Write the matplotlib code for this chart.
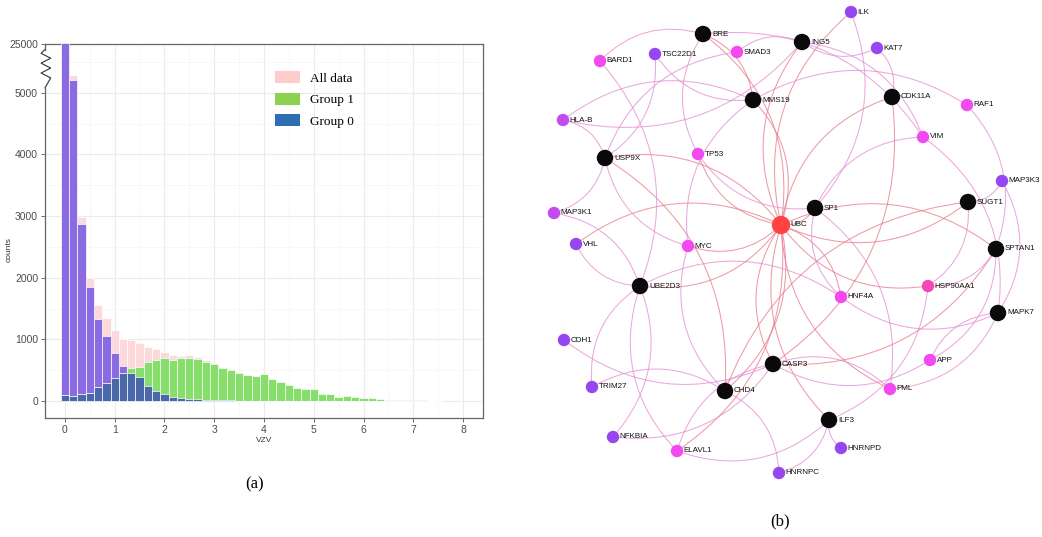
import numpy as np
import matplotlib
matplotlib.use('Agg')
import matplotlib.pyplot as plt
from matplotlib.patches import FancyArrowPatch, Patch
from matplotlib.transforms import blended_transform_factory

# Histogram of VZV scores, bin width 1/6
bin_centers = np.arange(46) / 6
all_data = [25000, 5280, 2980, 1990, 1557, 1340, 1145, 1000, 985, 935,
            880, 840, 800, 740, 730, 745, 710, 665, 615, 545,
            515, 456, 424, 413, 439, 357, 313, 265, 216, 190,
            200, 120, 120, 70, 80, 70, 55, 55, 27, 22,
            11, 11, 16, 11, 5, 5]
group1 = [97, 80, 113, 135, 225, 297, 375, 455, 530, 556,
          640, 670, 690, 665, 690, 705, 680, 640, 600, 530,
          505, 450, 420, 410, 437, 357, 313, 265, 216, 190,
          200, 120, 120, 70, 80, 70, 55, 55, 27, 22,
          11, 11, 16, 11, 5, 5]
group0 = [24900, 5200, 2870, 1855, 1330, 1055, 773, 567, 459, 384,
          248, 167, 108, 59, 45, 40, 30, 22, 15, 12,
          10, 6, 4, 3, 2, 0, 0, 0, 0, 0,
          0, 0, 0, 0, 0, 0, 0, 0, 0, 0,
          0, 0, 0, 0, 0, 0]
y_ticks = [0, 1000, 2000, 3000, 4000, 5000]
y_break_top = 5790
legend_labels = ['All data', 'Group 1', 'Group 0']

# PPI network layout
genes_hub = ['BRE', 'ING5', 'MMS19', 'CDK11A', 'USP9X', 'SP1', 'SUGT1',
             'SPTAN1', 'UBE2D3', 'MAPK7', 'CASP3', 'CHD4', 'ILF3']
genes_magenta = ['BARD1', 'SMAD3', 'TP53', 'MYC', 'VIM', 'RAF1', 'HNF4A',
                 'APP', 'PML', 'ELAVL1']
genes_purple = ['TSC22D1', 'ILK', 'KAT7', 'MAP3K3', 'VHL', 'CDH1', 'TRIM27',
                'NFKBIA', 'HNRNPC', 'HNRNPD']
genes_violet = ['HLA-B', 'MAP3K1']
pos = {
    'UBC': (781, 225), 'SP1': (815, 208), 'BRE': (703, 34), 'ING5': (802, 42),
    'MMS19': (753, 100), 'CDK11A': (892, 97), 'USP9X': (605, 158),
    'SUGT1': (968, 202), 'SPTAN1': (996, 249), 'UBE2D3': (640, 286),
    'MAPK7': (998, 313), 'CASP3': (773, 364), 'CHD4': (725, 391),
    'ILF3': (829, 420), 'ILK': (851, 12), 'KAT7': (877, 48),
    'BARD1': (600, 61), 'TSC22D1': (655, 54), 'SMAD3': (737, 52),
    'RAF1': (967, 105), 'HLA-B': (563, 120), 'TP53': (698, 154),
    'VIM': (923, 137), 'MAP3K3': (1002, 181), 'MAP3K1': (554, 213),
    'VHL': (576, 244), 'MYC': (688, 246), 'HNF4A': (841, 297),
    'HSP90AA1': (928, 286), 'CDH1': (564, 340), 'APP': (930, 360),
    'TRIM27': (592, 387), 'PML': (890, 389), 'NFKBIA': (613, 437),
    'HNRNPD': (841, 448), 'ELAVL1': (677, 451), 'HNRNPC': (779, 473),
}
edges = [
    ('UBC', 'SP1'), ('UBC', 'MYC'), ('UBC', 'USP9X'), ('UBC', 'UBE2D3'),
    ('UBC', 'CASP3'), ('UBC', 'CHD4'), ('UBC', 'ILF3'), ('UBC', 'HNF4A'),
    ('UBC', 'HSP90AA1'), ('UBC', 'SPTAN1'), ('UBC', 'SUGT1'), ('UBC', 'CDK11A'),
    ('UBC', 'MMS19'), ('UBC', 'ING5'), ('UBC', 'BRE'), ('UBC', 'ELAVL1'),
    ('UBC', 'PML'), ('UBC', 'TP53'), ('UBC', 'VHL'), ('UBC', 'ILK'),
    ('BRE', 'BARD1'), ('BRE', 'MMS19'), ('BRE', 'TP53'), ('BRE', 'VIM'),
    ('ING5', 'KAT7'), ('ING5', 'VIM'), ('ING5', 'SMAD3'), ('ING5', 'HLA-B'),
    ('MMS19', 'HLA-B'), ('MMS19', 'RAF1'), ('MMS19', 'MYC'), ('MMS19', 'TSC22D1'),
    ('CDK11A', 'KAT7'), ('CDK11A', 'CASP3'),
    ('USP9X', 'HLA-B'), ('USP9X', 'SMAD3'), ('USP9X', 'TSC22D1'),
    ('USP9X', 'MAP3K1'), ('USP9X', 'MYC'), ('USP9X', 'CHD4'),
    ('UBE2D3', 'BARD1'), ('UBE2D3', 'VHL'), ('UBE2D3', 'TRIM27'),
    ('UBE2D3', 'NFKBIA'), ('UBE2D3', 'ELAVL1'), ('UBE2D3', 'HNF4A'),
    ('UBE2D3', 'MAP3K1'),
    ('CASP3', 'CDH1'), ('CASP3', 'APP'), ('CASP3', 'PML'), ('CASP3', 'ELAVL1'),
    ('CASP3', 'NFKBIA'), ('CASP3', 'SPTAN1'),
    ('CHD4', 'HNRNPC'), ('CHD4', 'TRIM27'), ('CHD4', 'MYC'),
    ('ILF3', 'HNRNPD'), ('ILF3', 'HNRNPC'), ('ILF3', 'HSP90AA1'), ('ILF3', 'ELAVL1'),
    ('SUGT1', 'MAP3K3'), ('SUGT1', 'HSP90AA1'), ('SUGT1', 'CHD4'),
    ('SPTAN1', 'APP'), ('SPTAN1', 'RAF1'), ('SPTAN1', 'HSP90AA1'),
    ('MAPK7', 'MAP3K3'), ('MAPK7', 'HNF4A'), ('MAPK7', 'APP'), ('MAPK7', 'PML'),
    ('MAPK7', 'VIM'),
    ('SP1', 'VIM'), ('SP1', 'HNF4A'), ('SP1', 'PML'), ('SP1', 'ILK'), ('SP1', 'TP53'),
]

plt.rcParams['font.family'] = ['Liberation Sans', 'DejaVu Sans']

fig = plt.figure(figsize=(10.42, 5.37), dpi=100)

# ---- (a) overlaid histograms with broken y axis ----
ax = fig.add_axes([0.0432, 0.2222, 0.4203, 0.6958])
w = 1 / 6
overlap = np.minimum(group0, group1)
bar_kw = dict(width=w, align='center', edgecolor='white', linewidth=0.5)
ax.bar(bin_centers, all_data, color='#fcd9da', zorder=2, **bar_kw)
ax.bar(bin_centers, group0, color='#8a6be2', zorder=3, **bar_kw)
ax.bar(bin_centers, group1, color='#86de6b', zorder=4, **bar_kw)
ax.bar(bin_centers, overlap, color='#4a67a9', zorder=5, **bar_kw)

ax.set_xlim(-0.4, 8.4)
ax.set_ylim(-270, y_break_top)
ax.set_xticks(range(0, 9))
ax.set_xticks(np.arange(0.5, 8.5, 1), minor=True)
ax.set_yticks(y_ticks + [y_break_top])
ax.set_yticklabels([str(v) for v in y_ticks] + ['25000'])
ax.set_yticks(np.arange(500, 5800, 1000), minor=True)
ax.grid(which='major', color='#ebebeb', linewidth=0.8, zorder=0)
ax.grid(which='minor', color='#f4f4f4', linewidth=0.5, zorder=0)
ax.set_axisbelow(True)
ax.tick_params(which='major', length=3, width=0.6, color='#555555',
               labelsize=7.5, labelcolor='#4d4d4d', pad=2)
ax.tick_params(which='minor', length=0)
for s in ax.spines.values():
    s.set_color('#666666')
    s.set_linewidth(0.9)
ax.spines['left'].set_visible(False)

# left axis line drawn in two pieces with a zigzag break between them
tr = blended_transform_factory(ax.transAxes, ax.transData)
ax.plot([0, 0], [-270, 5080], transform=tr, color='#666666', lw=0.9,
        clip_on=False, zorder=6)
ax.plot([0, 0], [5700, y_break_top], transform=tr, color='#666666', lw=0.9,
        clip_on=False, zorder=6)
zx = [0.0, -0.009, 0.013, -0.009, 0.013, -0.009, 0.013, 0.0]
zy = [5700, 5640, 5560, 5480, 5400, 5320, 5240, 5080]
ax.plot(zx, zy, transform=tr, color='#333333', lw=0.8, clip_on=False, zorder=6)

ax.set_xlabel('VZV', fontsize=6, color='#333333', labelpad=2)
ax.set_ylabel('counts', fontsize=6, color='#333333')
ax.yaxis.set_label_coords(-0.075, 0.45)

handles = [Patch(facecolor=c, edgecolor='none') for c in ['#ffcccc', '#8cd152', '#2f6db3']]
ax.legend(handles, legend_labels, loc='upper left', bbox_to_anchor=(0.511, 0.945),
          frameon=False, borderpad=0, handlelength=1.9, handleheight=1.0,
          labelspacing=0.62, handletextpad=0.7,
          prop={'family': 'Liberation Serif', 'size': 9.5})

fig.text(255 / 1042, 1 - 484 / 537, '(a)', family='Liberation Serif',
         fontsize=12, ha='center', va='center')

# ---- (b) interaction network ----
net = fig.add_axes([0.5, 0.0, 0.5, 1.0])
net.set_xlim(521, 1042)
net.set_ylim(537, 0)
net.axis('off')

node_color = {'UBC': '#ff4343', 'HSP90AA1': '#f448b8'}
node_color.update({g: '#0a0a0a' for g in genes_hub})
node_color.update({g: '#f24af0' for g in genes_magenta})
node_color.update({g: '#9747ef' for g in genes_purple})
node_color.update({g: '#c24cf0' for g in genes_violet})

for i, (a, b) in enumerate(edges):
    both_hub = (a == 'UBC' or a in genes_hub) and (b == 'UBC' or b in genes_hub)
    col = '#e7788a' if (a == 'UBC' or both_hub) else '#e58ad2'
    rad = 0.3 if i % 2 == 0 else -0.3
    p = FancyArrowPatch(pos[a], pos[b], arrowstyle='-',
                        connectionstyle=f'arc3,rad={rad}',
                        color=col, lw=0.75, alpha=0.75, zorder=1,
                        shrinkA=0, shrinkB=0)
    net.add_patch(p)

for g, (x, y) in pos.items():
    if g == 'UBC':
        size, dx = 175, 9
    elif g in genes_hub:
        size, dx = 140, 9
    else:
        size, dx = 80, 6.5
    net.scatter([x], [y], s=size, color=node_color[g], edgecolors='none', zorder=3)
    net.text(x + dx, y, g, fontsize=5.8, color='#111111', ha='left',
             va='center', zorder=4)

fig.text(780 / 1042, 1 - 521 / 537, '(b)', family='Liberation Serif',
         fontsize=12, ha='center', va='center')

fig.savefig('out.png', dpi=100, facecolor='white')
